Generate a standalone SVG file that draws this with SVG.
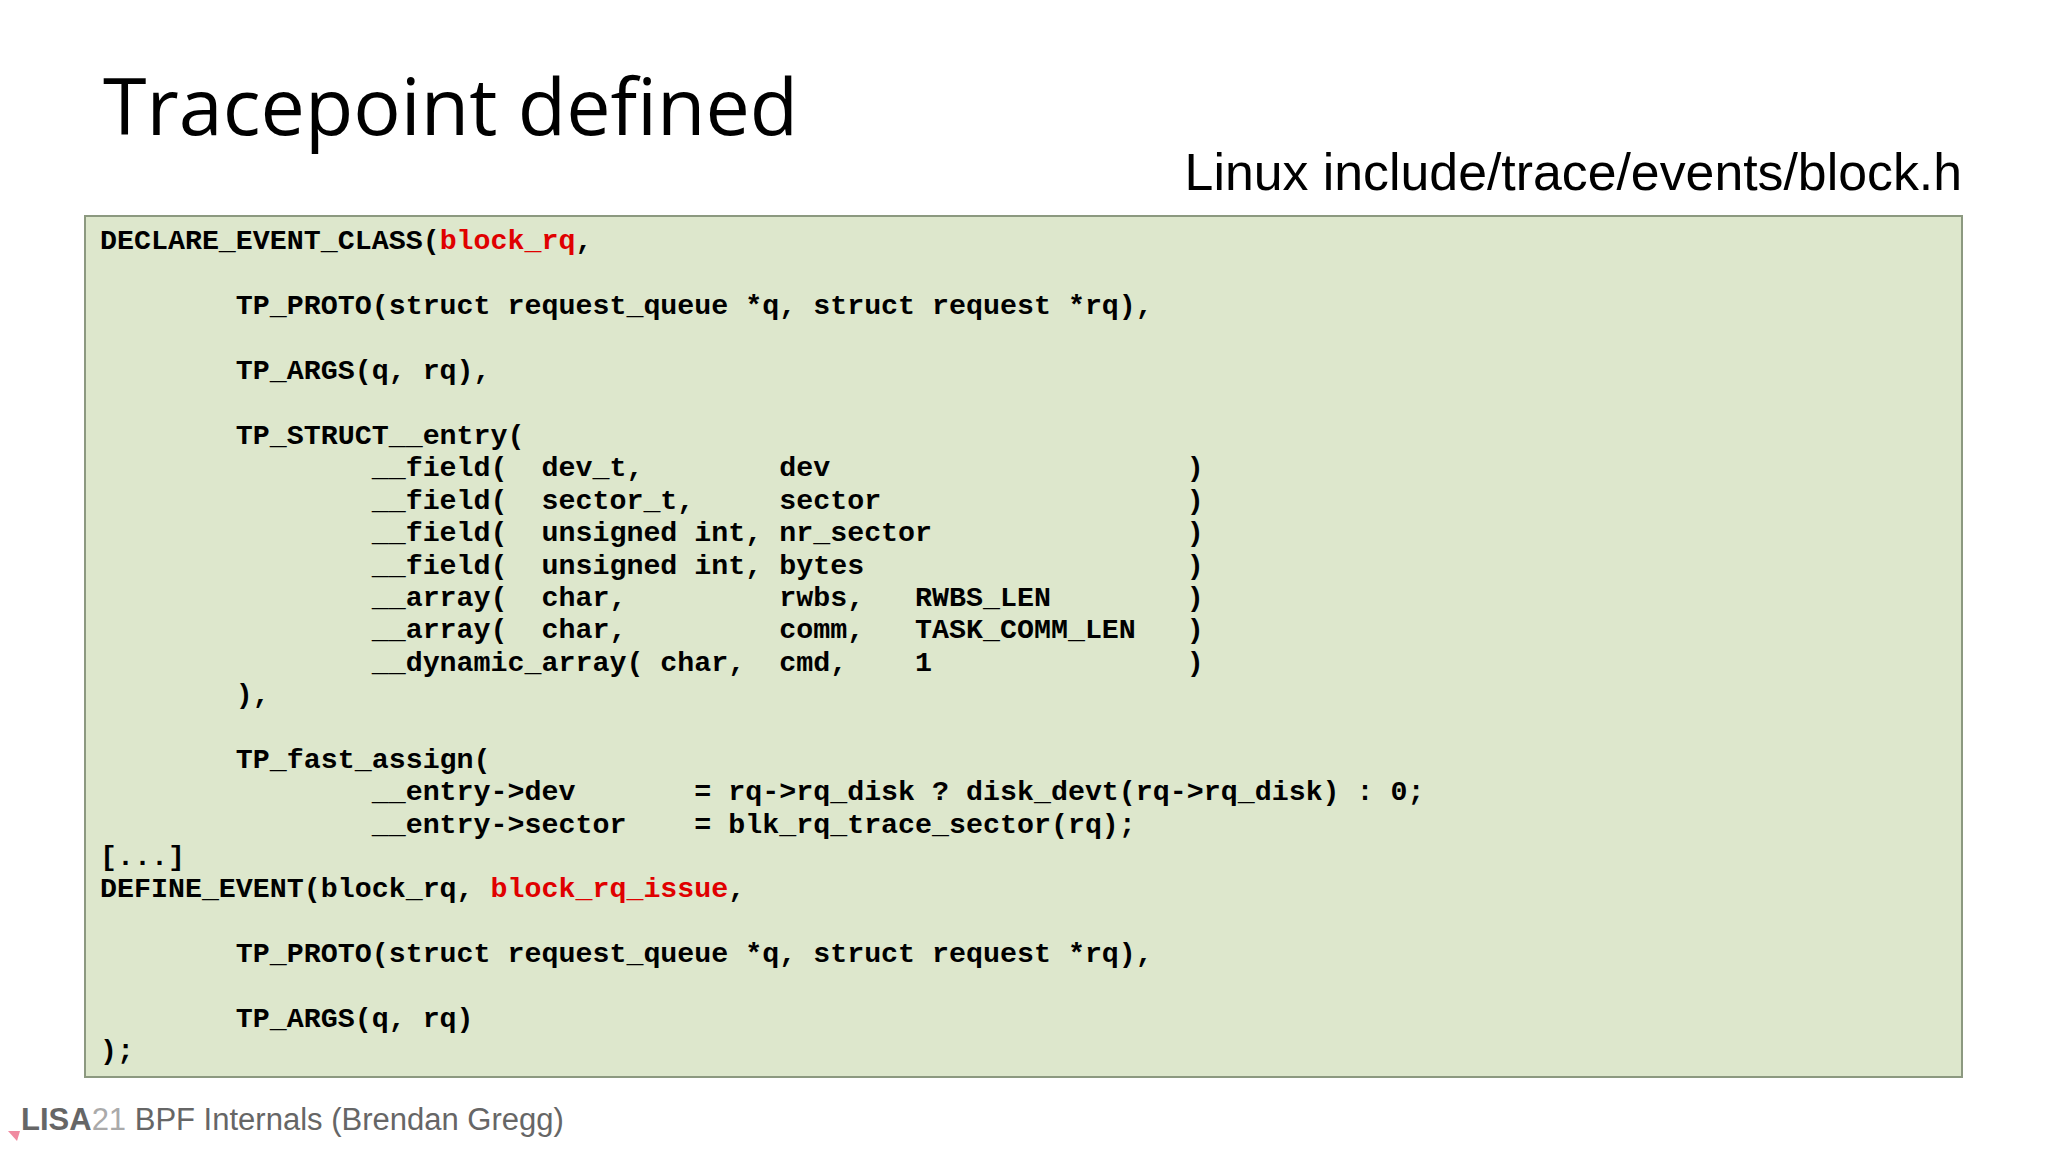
<svg xmlns="http://www.w3.org/2000/svg" width="2048" height="1152" viewBox="0 0 2048 1152">
<style>
.c{font-family:"Liberation Mono",monospace;font-weight:bold;font-size:28.3px;fill:#000;white-space:pre}
.r{fill:#e00000}
</style>
<rect width="2048" height="1152" fill="#fff"/>
<text x="103" y="135" font-family="Open Sans, sans-serif" font-size="79" fill="#000">Tracepoint defined</text>
<text x="1962" y="190" text-anchor="end" font-family="Liberation Sans, sans-serif" font-size="51.8" fill="#000">Linux include/trace/events/block.h</text>
<g id="code">
<rect x="85" y="216" width="1877" height="861" fill="#dde7cc" stroke="#8c9980" stroke-width="2"/>
<text class="c" xml:space="preserve"><tspan x="100" y="249">DECLARE_EVENT_CLASS(<tspan class="r">block_rq</tspan>,</tspan><tspan x="100" y="314">        TP_PROTO(struct request_queue *q, struct request *rq),</tspan><tspan x="100" y="379">        TP_ARGS(q, rq),</tspan><tspan x="100" y="444">        TP_STRUCT__entry(</tspan><tspan x="100" y="476">                __field(  dev_t,        dev                     )</tspan><tspan x="100" y="509">                __field(  sector_t,     sector                  )</tspan><tspan x="100" y="541">                __field(  unsigned int, nr_sector               )</tspan><tspan x="100" y="574">                __field(  unsigned int, bytes                   )</tspan><tspan x="100" y="606">                __array(  char,         rwbs,   RWBS_LEN        )</tspan><tspan x="100" y="638">                __array(  char,         comm,   TASK_COMM_LEN   )</tspan><tspan x="100" y="671">                __dynamic_array( char,  cmd,    1               )</tspan><tspan x="100" y="703">        ),</tspan><tspan x="100" y="768">        TP_fast_assign(</tspan><tspan x="100" y="800">                __entry->dev       = rq->rq_disk ? disk_devt(rq->rq_disk) : 0;</tspan><tspan x="100" y="833">                __entry->sector    = blk_rq_trace_sector(rq);</tspan><tspan x="100" y="865">[...]</tspan><tspan x="100" y="897">DEFINE_EVENT(block_rq, <tspan class="r">block_rq_issue</tspan>,</tspan><tspan x="100" y="962">        TP_PROTO(struct request_queue *q, struct request *rq),</tspan><tspan x="100" y="1027">        TP_ARGS(q, rq)</tspan><tspan x="100" y="1059">);</tspan></text>
</g>
<g id="footer">
<polygon points="8,1131 20,1131 17,1141" fill="#f08aa0"/>
<text x="21" y="1130" font-family="Liberation Sans, sans-serif" font-size="31" fill="#666"><tspan font-weight="bold">LISA</tspan><tspan fill="#aaa">21</tspan> BPF Internals (Brendan Gregg)</text>
</g>
</svg>
